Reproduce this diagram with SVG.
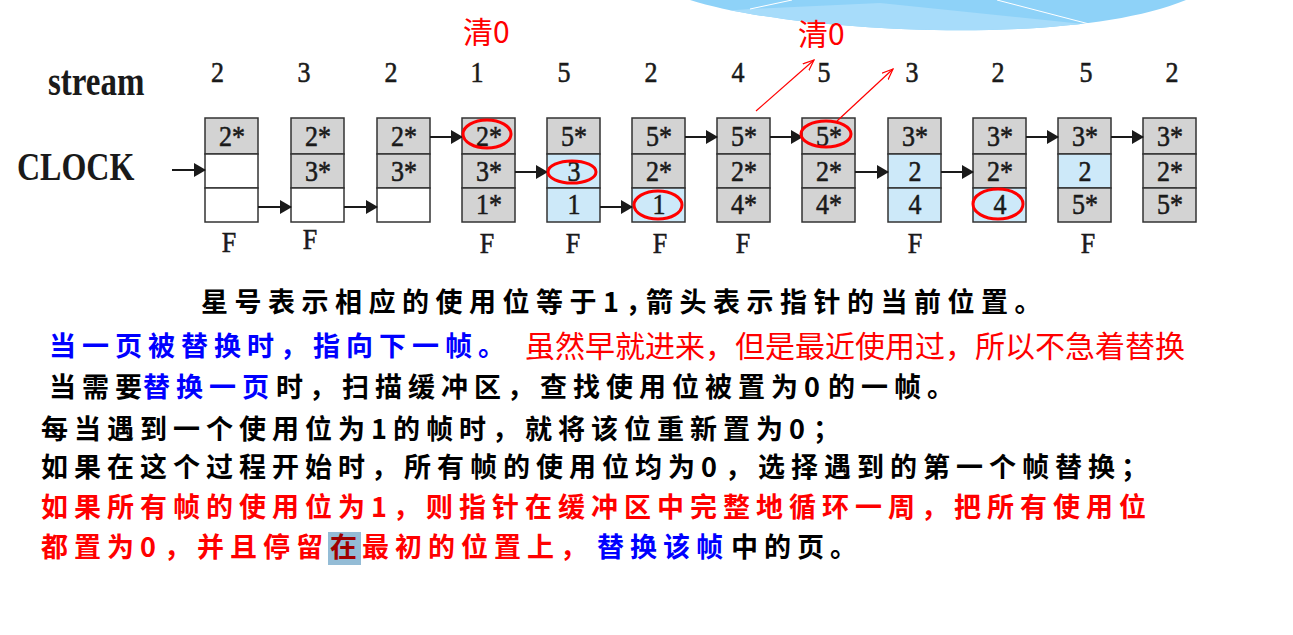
<svg xmlns="http://www.w3.org/2000/svg" width="1293" height="635" viewBox="0 0 1293 635">
<style>
.g{fill:#d3d3d3;stroke:#333;stroke-width:1.5}
.b{fill:#cde9f9;stroke:#333;stroke-width:1.5}
.w{fill:#fff;stroke:#333;stroke-width:1.5}
.c{font-family:"Liberation Serif","Times New Roman",serif;font-size:26px;fill:#1a1a1a;stroke:#1a1a1a;stroke-width:0.5;text-anchor:middle}
.lbl{font-family:"Liberation Serif","Times New Roman",serif;font-weight:bold;fill:#1a1a1a}
.ar{stroke:#1a1a1a;stroke-width:2;fill:none}
.ra{stroke:#ff0000;stroke-width:1.2;fill:none}
.ov{fill:none;stroke:#ff0000;stroke-width:3}
.t{font-family:"Noto Sans CJK SC",sans-serif;font-weight:700;font-size:27px;letter-spacing:6.5px}
.t2{font-family:"Noto Sans CJK SC",sans-serif;font-weight:700;font-size:27px;letter-spacing:6px}
.rr{font-family:"Noto Sans CJK SC",sans-serif;font-weight:400;font-size:30px;fill:#ff0000}
.k{fill:#000}
.bl{fill:#0000ff}
.rd{fill:#ff0000}
.z{letter-spacing:8px}
</style>
<defs>
<marker id="ah" markerUnits="userSpaceOnUse" markerWidth="12" markerHeight="14" viewBox="0 0 12 14" refX="11" refY="7" orient="auto">
<path d="M0,0 L12,7 L0,14 Z" fill="#1a1a1a"/>
</marker>
<marker id="rh" markerUnits="userSpaceOnUse" markerWidth="12" markerHeight="10" viewBox="0 0 12 10" refX="11" refY="5" orient="auto">
<path d="M0,0.5 L11,5 L0,9.5" fill="none" stroke="#ff0000" stroke-width="1.2"/>
</marker>
<clipPath id="wave"><path d="M690 0 C790 32 1070 48 1186 0 Z"/></clipPath>
</defs>

<g id="decoration">
<path d="M690 0 C790 32 1070 48 1186 0 Z" fill="#8ed2f8"/>
<polygon clip-path="url(#wave)" points="750,9 880,3 1093,25 1093,60 680,60 680,14" fill="#a7dcfa"/>
<line x1="750" y1="9" x2="792" y2="0" stroke="#fff" stroke-width="1"/>
<line x1="997" y1="0" x2="1093" y2="25" stroke="#fff" stroke-width="1"/>
</g>

<g id="labels">
<text class="lbl" font-size="33" transform="translate(48,95) scale(1,1.27)">stream</text>
<text class="lbl" font-size="32" transform="translate(17,180) scale(1,1.27)">CLOCK</text>
<text class="rr" x="463" y="43">清0</text>
<text class="rr" x="798" y="45">清0</text>
</g>

<g id="stream">
<text class="c" transform="translate(217.5,82) scale(1,1.1)">2</text>
<text class="c" transform="translate(304,82) scale(1,1.1)">3</text>
<text class="c" transform="translate(391,82) scale(1,1.1)">2</text>
<text class="c" transform="translate(477,82) scale(1,1.1)">1</text>
<text class="c" transform="translate(564,82) scale(1,1.1)">5</text>
<text class="c" transform="translate(651,82) scale(1,1.1)">2</text>
<text class="c" transform="translate(738,82) scale(1,1.1)">4</text>
<text class="c" transform="translate(824,82) scale(1,1.1)">5</text>
<text class="c" transform="translate(912,82) scale(1,1.1)">3</text>
<text class="c" transform="translate(998,82) scale(1,1.1)">2</text>
<text class="c" transform="translate(1086,82) scale(1,1.1)">5</text>
<text class="c" transform="translate(1172,82) scale(1,1.1)">2</text>
</g>

<g id="frame-1">
<rect class="g" x="205" y="118" width="53" height="36"/><rect class="w" x="205" y="154" width="53" height="34"/><rect class="w" x="205" y="188" width="53" height="34"/>
<text class="c" transform="translate(232,146) scale(1,1.15)">2*</text>
<text class="c" transform="translate(229,252) scale(1,1.15)">F</text>
</g>
<g id="frame-2">
<rect class="g" x="291" y="118" width="53" height="36"/><rect class="g" x="291" y="154" width="53" height="34"/><rect class="w" x="291" y="188" width="53" height="34"/>
<text class="c" transform="translate(318,146) scale(1,1.15)">2*</text>
<text class="c" transform="translate(318,181) scale(1,1.15)">3*</text>
<text class="c" transform="translate(310,249) scale(1,1.15)">F</text>
</g>
<g id="frame-3">
<rect class="g" x="377" y="118" width="53" height="36"/><rect class="g" x="377" y="154" width="53" height="34"/><rect class="w" x="377" y="188" width="53" height="34"/>
<text class="c" transform="translate(404,146) scale(1,1.15)">2*</text>
<text class="c" transform="translate(404,181) scale(1,1.15)">3*</text>
</g>
<g id="frame-4">
<rect class="g" x="462" y="118" width="53" height="36"/><rect class="g" x="462" y="154" width="53" height="34"/><rect class="g" x="462" y="188" width="53" height="34"/>
<text class="c" transform="translate(489,146) scale(1,1.15)">2*</text>
<text class="c" transform="translate(489,181) scale(1,1.15)">3*</text>
<text class="c" transform="translate(489,214) scale(1,1.15)">1*</text>
<text class="c" transform="translate(487,253) scale(1,1.15)">F</text>
</g>
<g id="frame-5">
<rect class="g" x="547" y="118" width="53" height="36"/><rect class="b" x="547" y="154" width="53" height="34"/><rect class="b" x="547" y="188" width="53" height="34"/>
<text class="c" transform="translate(574,146) scale(1,1.15)">5*</text>
<text class="c" transform="translate(574,181) scale(1,1.15)">3</text>
<text class="c" transform="translate(574,214) scale(1,1.15)">1</text>
<text class="c" transform="translate(573,253) scale(1,1.15)">F</text>
</g>
<g id="frame-6">
<rect class="g" x="632" y="118" width="53" height="36"/><rect class="g" x="632" y="154" width="53" height="34"/><rect class="b" x="632" y="188" width="53" height="34"/>
<text class="c" transform="translate(659,146) scale(1,1.15)">5*</text>
<text class="c" transform="translate(659,181) scale(1,1.15)">2*</text>
<text class="c" transform="translate(659,214) scale(1,1.15)">1</text>
<text class="c" transform="translate(660,253) scale(1,1.15)">F</text>
</g>
<g id="frame-7">
<rect class="g" x="717" y="118" width="53" height="36"/><rect class="g" x="717" y="154" width="53" height="34"/><rect class="g" x="717" y="188" width="53" height="34"/>
<text class="c" transform="translate(744,146) scale(1,1.15)">5*</text>
<text class="c" transform="translate(744,181) scale(1,1.15)">2*</text>
<text class="c" transform="translate(744,214) scale(1,1.15)">4*</text>
<text class="c" transform="translate(743,253) scale(1,1.15)">F</text>
</g>
<g id="frame-8">
<rect class="g" x="802" y="118" width="53" height="36"/><rect class="g" x="802" y="154" width="53" height="34"/><rect class="g" x="802" y="188" width="53" height="34"/>
<text class="c" transform="translate(829,146) scale(1,1.15)">5*</text>
<text class="c" transform="translate(829,181) scale(1,1.15)">2*</text>
<text class="c" transform="translate(829,214) scale(1,1.15)">4*</text>
</g>
<g id="frame-9">
<rect class="g" x="888" y="118" width="53" height="36"/><rect class="b" x="888" y="154" width="53" height="34"/><rect class="b" x="888" y="188" width="53" height="34"/>
<text class="c" transform="translate(915,146) scale(1,1.15)">3*</text>
<text class="c" transform="translate(915,181) scale(1,1.15)">2</text>
<text class="c" transform="translate(915,214) scale(1,1.15)">4</text>
<text class="c" transform="translate(915,253) scale(1,1.15)">F</text>
</g>
<g id="frame-10">
<rect class="g" x="973" y="118" width="53" height="36"/><rect class="g" x="973" y="154" width="53" height="34"/><rect class="b" x="973" y="188" width="53" height="34"/>
<text class="c" transform="translate(1000,146) scale(1,1.15)">3*</text>
<text class="c" transform="translate(1000,181) scale(1,1.15)">2*</text>
<text class="c" transform="translate(1000,214) scale(1,1.15)">4</text>
</g>
<g id="frame-11">
<rect class="g" x="1058" y="118" width="53" height="36"/><rect class="b" x="1058" y="154" width="53" height="34"/><rect class="g" x="1058" y="188" width="53" height="34"/>
<text class="c" transform="translate(1085,146) scale(1,1.15)">3*</text>
<text class="c" transform="translate(1085,181) scale(1,1.15)">2</text>
<text class="c" transform="translate(1085,214) scale(1,1.15)">5*</text>
<text class="c" transform="translate(1088,253) scale(1,1.15)">F</text>
</g>
<g id="frame-12">
<rect class="g" x="1143" y="118" width="53" height="36"/><rect class="g" x="1143" y="154" width="53" height="34"/><rect class="g" x="1143" y="188" width="53" height="34"/>
<text class="c" transform="translate(1170,146) scale(1,1.15)">3*</text>
<text class="c" transform="translate(1170,181) scale(1,1.15)">2*</text>
<text class="c" transform="translate(1170,214) scale(1,1.15)">5*</text>
</g>

<g id="connectors">
<line class="ar" x1="172" y1="170" x2="205" y2="170" marker-end="url(#ah)"/>
<line class="ar" x1="258" y1="207" x2="291" y2="207" marker-end="url(#ah)"/>
<line class="ar" x1="344" y1="207" x2="377" y2="207" marker-end="url(#ah)"/>
<line class="ar" x1="430" y1="137" x2="462" y2="137" marker-end="url(#ah)"/>
<line class="ar" x1="515" y1="172" x2="547" y2="172" marker-end="url(#ah)"/>
<line class="ar" x1="600" y1="207" x2="632" y2="207" marker-end="url(#ah)"/>
<line class="ar" x1="685" y1="137" x2="717" y2="137" marker-end="url(#ah)"/>
<line class="ar" x1="770" y1="137" x2="802" y2="137" marker-end="url(#ah)"/>
<line class="ar" x1="855" y1="172" x2="888" y2="172" marker-end="url(#ah)"/>
<line class="ar" x1="941" y1="172" x2="973" y2="172" marker-end="url(#ah)"/>
<line class="ar" x1="1026" y1="137" x2="1058" y2="137" marker-end="url(#ah)"/>
<line class="ar" x1="1111" y1="137" x2="1143" y2="137" marker-end="url(#ah)"/>
<line class="ra" x1="756" y1="111" x2="814" y2="60" marker-end="url(#rh)"/>
<line class="ra" x1="837" y1="121" x2="893" y2="69" marker-end="url(#rh)"/>
</g>

<g id="marks">
<ellipse class="ov" cx="487" cy="134" rx="24" ry="14"/>
<ellipse class="ov" cx="572" cy="172" rx="24" ry="11"/>
<ellipse class="ov" cx="658" cy="205" rx="24" ry="14"/>
<ellipse class="ov" cx="826" cy="134" rx="25" ry="13"/>
<ellipse class="ov" cx="998" cy="204" rx="25" ry="15"/>
</g>

<g id="notes">
<text class="t k" x="201" y="312">星号表示相应的使用位等于1，</text>
<text class="t k" x="646" y="312">箭头表示指针的当前位置。</text>
<text class="t2 bl" x="49" y="356">当一页被替换时，指向下一帧。</text>
<text class="rr" x="525" y="357">虽然早就进来，但是最近使用过，所以不急着替换</text>
<text class="t2 k" x="49" y="397">当需要</text>
<text class="t2 bl" x="143" y="397">替换一页</text>
<text class="t2 k" x="276" y="397">时，扫描缓冲区，查找使用位被置为<tspan class="z">0</tspan>的一帧。</text>
<text class="t2 k" x="41" y="439">每当遇到一个使用位为1的帧时，就将该位重新置为<tspan class="z">0</tspan>；</text>
<text class="t2 k" x="41" y="477">如果在这个过程开始时，所有帧的使用位均为<tspan class="z">0</tspan>，选择遇到的第一个帧替换；</text>
<text class="t2 rd" x="41" y="517">如果所有帧的使用位为1，则指针在缓冲区中完整地循环一周，把所有使用位</text>
<rect x="328" y="532" width="33" height="33" fill="#94bcd6"/>
<text class="t2 rd" x="41" y="557">都置为<tspan class="z">0</tspan>，并且停留</text>
<text class="t2" x="330" y="557" fill="#a00000" style="letter-spacing:0">在</text>
<text class="t2 rd" x="362" y="557">最初的位置上，</text>
<text class="t2 bl" x="597" y="557">替换该帧</text>
<text class="t2 k" x="731" y="557">中的页。</text>
</g>
</svg>
